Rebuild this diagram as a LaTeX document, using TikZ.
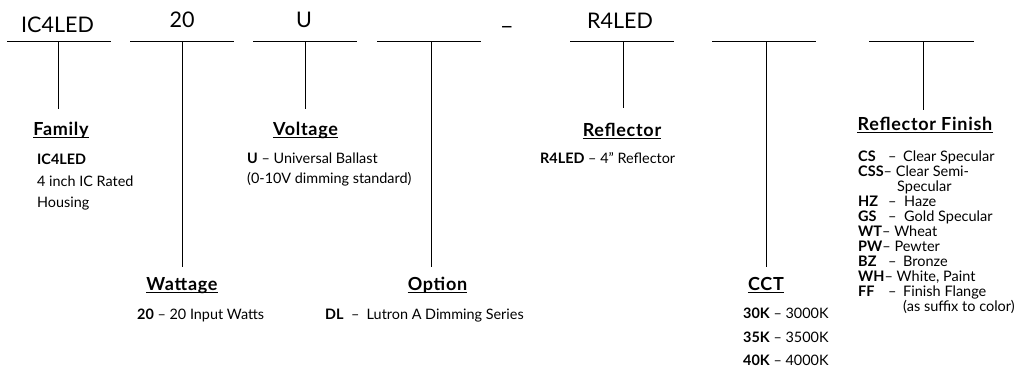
\documentclass[tikz,border=0pt]{standalone}
\usepackage{fontspec}
\setmainfont{Lato}
\newcommand{\dtx}[2]{\makebox[#1pt][l]{–}#2}
\begin{document}
\begin{tikzpicture}[x=1pt,y=-1pt,
  rulex/.style={line width=1pt},
  codetxt/.style={font=\fontsize{21.5}{26}\selectfont, anchor=base, inner sep=0pt},
  hdr/.style={font=\bfseries\fontsize{18}{21}\selectfont\addfontfeature{LetterSpace=4}, anchor=base, inner sep=0pt},
  body/.style={font=\fontsize{14.4}{17}\selectfont, anchor=base west, inner sep=0pt},
  fin/.style={font=\fontsize{14.5}{15}\selectfont, anchor=base west, inner sep=0pt},
  ul/.style={line width=1.4pt}]
\useasboundingbox (0,0) rectangle (1021,370);
% blanks
\foreach \n/\xl/\xr/\xm/\ye in {1/7/111/58/109, 2/130/234/182/267, 3/253/357/305/109, 4/377/481/431/267, 5/570/674/623/108, 6/712/816/766/267, 7/869/974/923/110}{
  \coordinate (bl\n) at (\xl,41.5);
  \coordinate (br\n) at (\xr,41.5);
  \coordinate (bm\n) at (\xm,41.5);
  \coordinate (be\n) at (\xm,\ye);
  \draw[rulex] (bl\n) -- (br\n);
  \draw[rulex] (bm\n) -- (be\n);
}
% codes on blanks
\node[codetxt] (c1) at (57.5,32) {IC4LED};
\node[codetxt] (c2) at (182,27) {20};
\node[codetxt] (c3) at (304,27) {U};
\node[codetxt, font=\fontsize{24}{28}\selectfont] (cdash) at (507,24) {\_};
\node[codetxt] (c5) at (620,28) {R4LED};
% headers
\foreach \n/\hx/\hy/\htx in {1/61/135/Family, 2/182/290/Wattage, 3/305.5/135/Voltage, 4/437.5/290/Option, 5/622/136/Reflector, 6/766/290/CCT, 7/925/130/{Reflector Finish}}{
  \node[hdr] (h\n) at (\hx,\hy) {\htx};
  \draw[ul] ([yshift=-2.5pt]h\n.base west) -- ([yshift=-2.5pt]h\n.base east);
}
% family
\node[body] (f1) at (37,164) {\textbf{IC4LED}};
\node[body] (f2) at (37,186) {4 inch IC Rated};
\node[body] (f3) at (37,207) {Housing};
% voltage
\node[body] (v1) at (247,163) {\textbf{U} – Universal Ballast};
\node[body] (v2) at (247,183) {(0-10V dimming standard)};
% reflector
\node[body] (r1) at (540,163) {\textbf{R4LED} – 4" Reflector};
% wattage
\node[body] (w1) at (137,319) {\textbf{20} – 20 Input Watts};
% option
\node[body] (o1) at (325,319) {\textbf{DL}\ \ –\ \ Lutron A Dimming Series};
% cct
\node[body] (t1) at (743,318) {\textbf{30K} – 3000K};
\node[body] (t2) at (743,342) {\textbf{35K} – 3500K};
\node[body] (t3) at (743,365) {\textbf{40K} – 4000K};
% reflector finish list: code, then dash and text
\foreach \yy/\cd/\dx/\gp/\tx in {161/CS/888/15/{Clear Specular}, 206/HZ/888/16/{Haze}, 221/GS/888/16/{Gold Specular}, 266/BZ/888/15/{Bronze}, 296/FF/888/15/{Finish Flange}}{
  \node[fin] (fc\yy) at (858,\yy) {\textbf{\cd}};
  \node[fin] (ft\yy) at (\dx,\yy) {\dtx{\gp}{\tx}};
}
\foreach \yy/\cd/\tx in {176/CSS/{Clear Semi-}, 236/WT/{Wheat}, 251/PW/{Pewter}, 281/WH/{White, Paint}}{
  \node[fin] (fc\yy) at (858,\yy) {\textbf{\cd}– \tx};
}
\node[fin] (fs1) at (897,191) {Specular};
\node[fin] (fs2) at (903,311) {(as suffix to color)};
\end{tikzpicture}
\end{document}
